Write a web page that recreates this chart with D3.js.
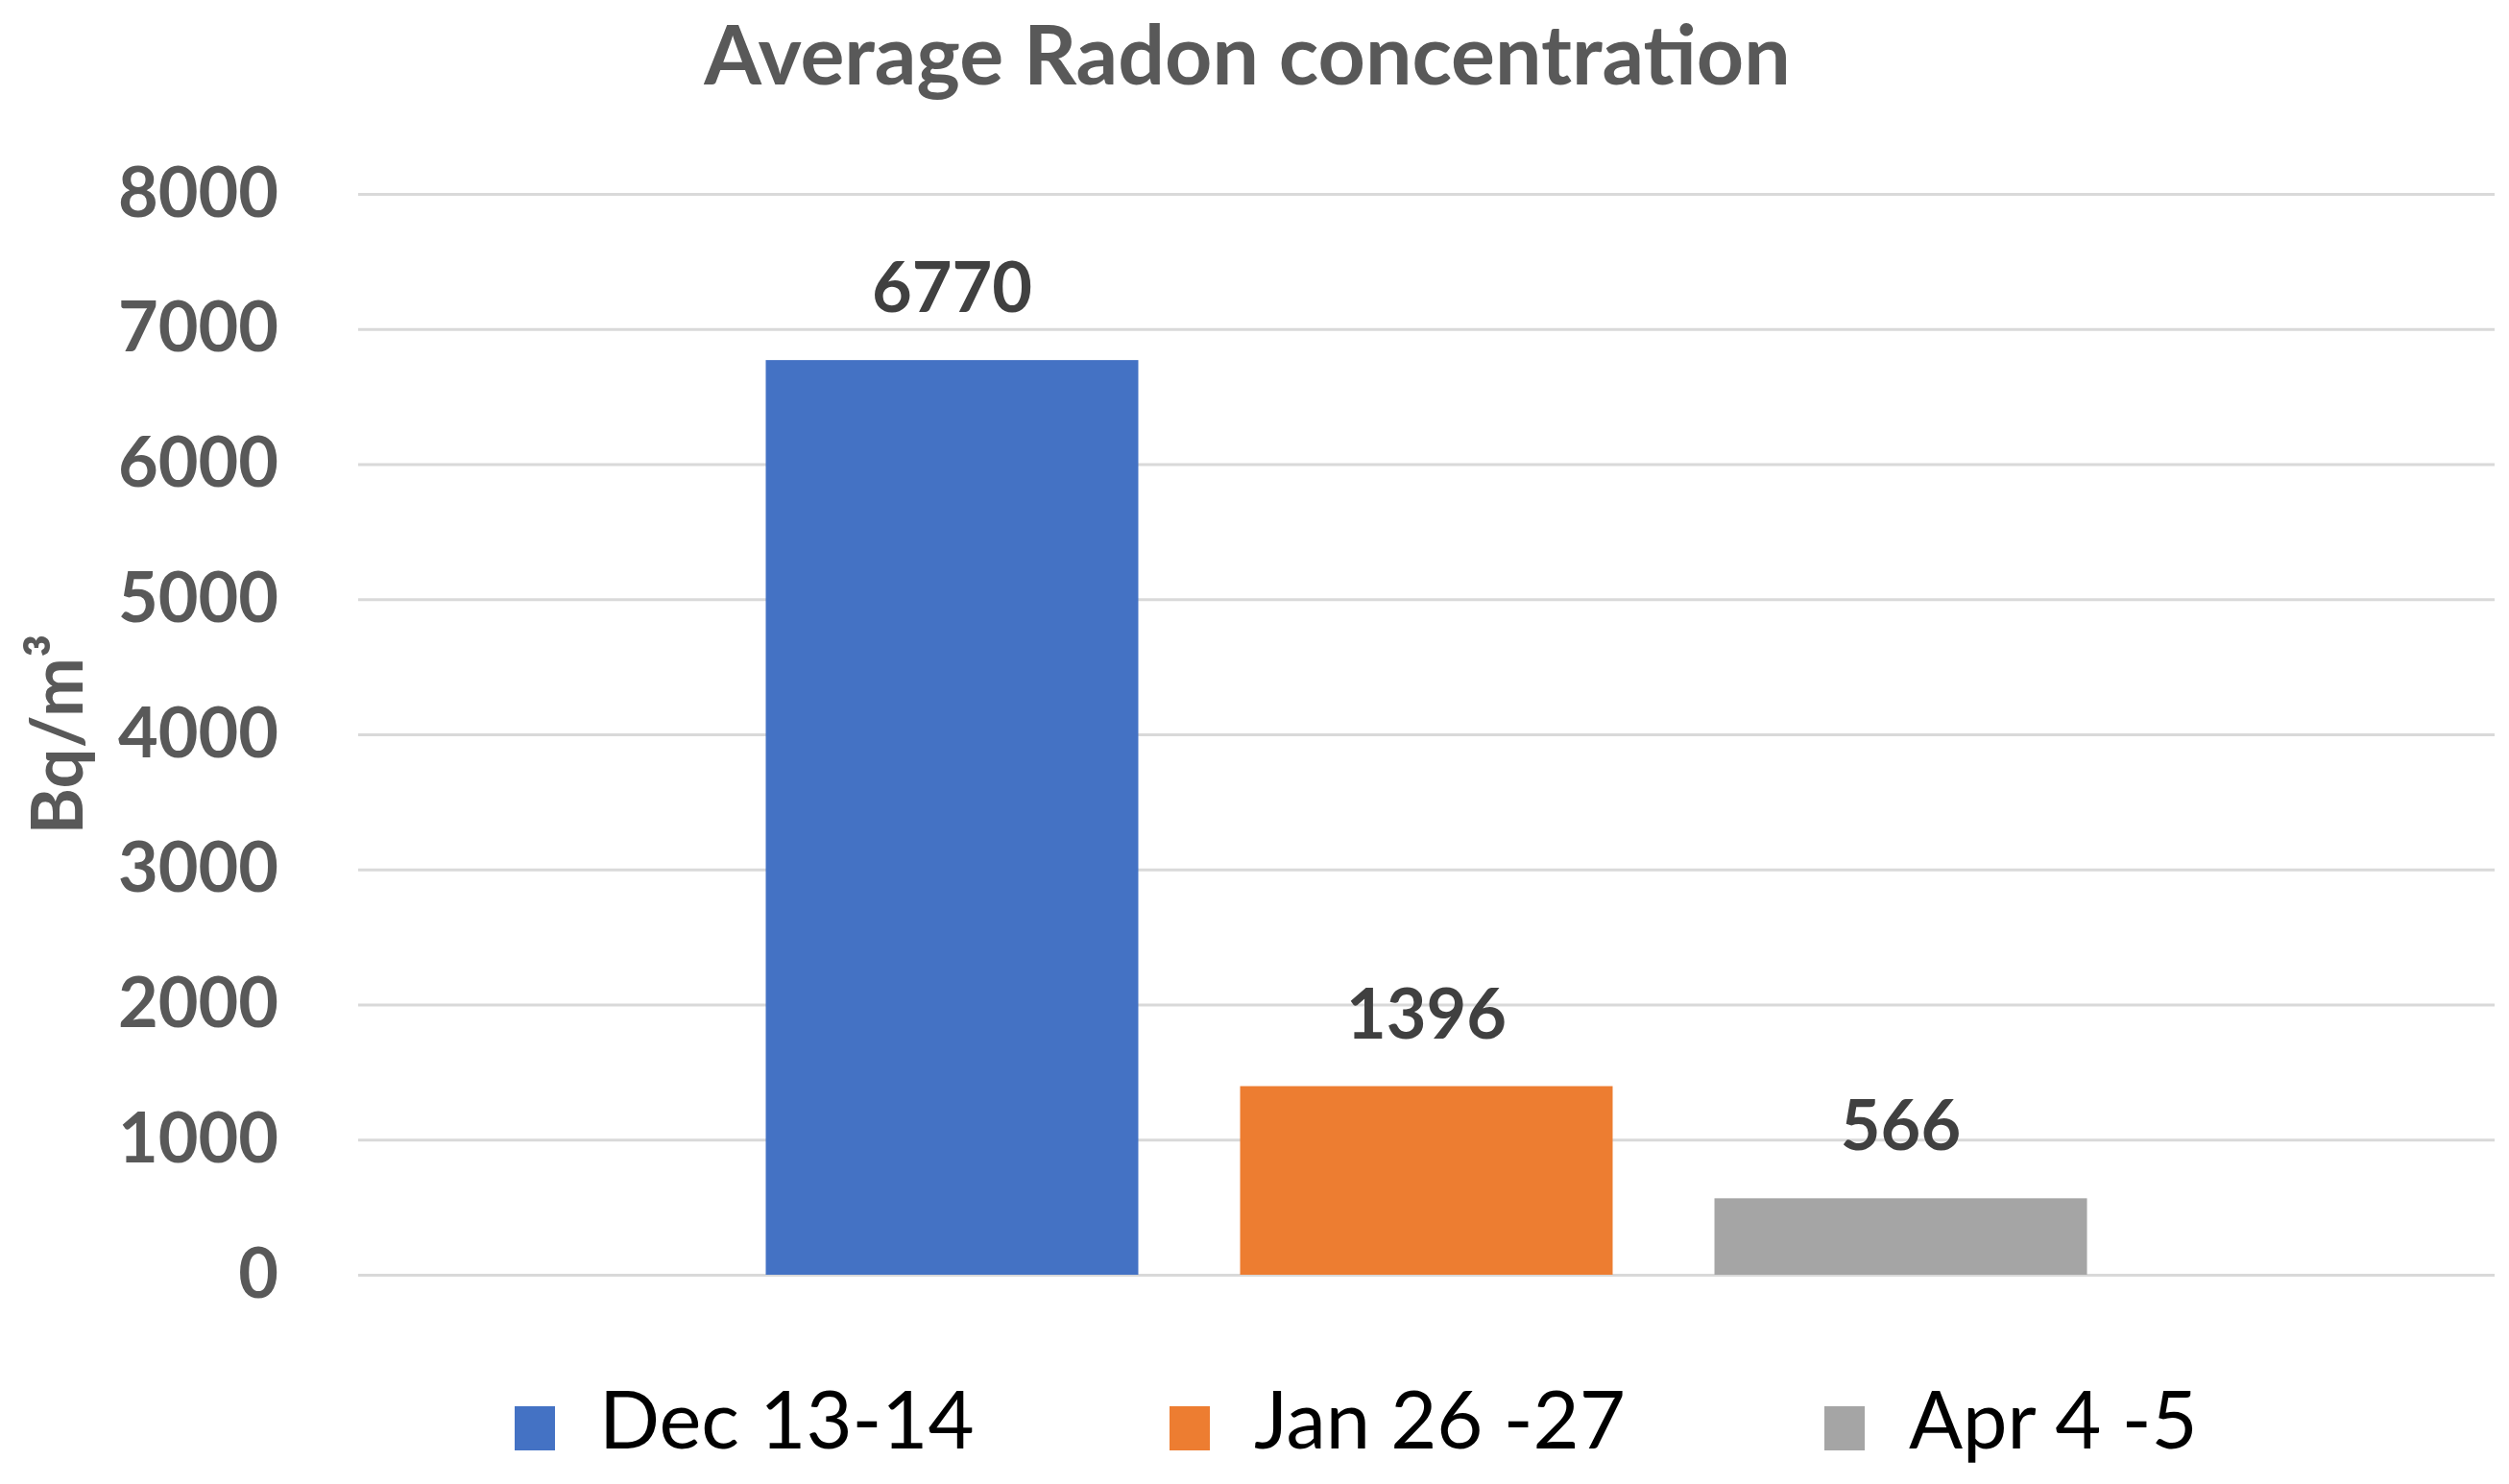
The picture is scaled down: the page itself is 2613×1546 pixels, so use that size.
<!DOCTYPE html>
<html>
<head>
<meta charset="utf-8">
<script src="https://cdnjs.cloudflare.com/ajax/libs/d3/7.8.5/d3.min.js"></script>
<style>
    body { margin: 0; background: #fff; }
    .main text { font-family: Lato, "Open Sans", sans-serif; }
</style>
</head>
<body>
<div class="main"></div>
<script>
// data
let categories = ["Radon"];
let seriesNames = ["Dec 13-14", "Jan 26 -27", "Apr 4 -5"];
let seriesValues = [6770, 1396, 566];
let seriesColors = ["#4472C4", "#ED7D31", "#A5A5A5"];
let yTicks = [0, 1000, 2000, 3000, 4000, 5000, 6000, 7000, 8000];

let width = 2613;
let height = 1546;

// plot area
let plotLeft = 373;
let plotRight = 2598;
let plotTop = 202;
let plotBottom = 1328;

let svg = d3.select(".main")
    .append("svg")
    .attr("width", width)
    .attr("height", height);

svg.append("rect")
    .attr("width", width)
    .attr("height", height)
    .attr("fill", "#fff");

let y = d3.scaleLinear()
    .domain([0, 8000])
    .range([plotBottom, plotTop]);

// one category, three series side by side (excel style gap width)
let x0 = d3.scaleBand()
    .domain(categories)
    .range([plotLeft, plotRight])
    .paddingInner(0)
    .paddingOuter(0.3085);

let x1 = d3.scaleBand()
    .domain(seriesNames)
    .range([0, x0.bandwidth()])
    .paddingInner(0.2146)
    .paddingOuter(0);

// gridlines + tick labels
let yAxis = d3.axisLeft(y)
    .tickValues(yTicks)
    .tickSize(-(plotRight - plotLeft))
    .tickPadding(83)
    .tickFormat(d3.format("d"));

let axisG = svg.append("g")
    .attr("transform", `translate(${plotLeft},0)`)
    .call(yAxis);

axisG.select(".domain").remove();
axisG.selectAll(".tick line")
    .attr("stroke", "#D9D9D9")
    .attr("stroke-width", 3);
axisG.selectAll(".tick text")
    .attr("fill", "#595959")
    .attr("font-size", 72)
    .attr("font-weight", "bold")
    .style("font-family", "Lato, sans-serif");

// bars
let bars = svg.append("g")
    .selectAll("g")
    .data(categories)
    .enter()
    .append("g")
    .attr("transform", d => `translate(${x0(d)},0)`);

let barData = seriesNames.map((name, i) => ({ name: name, value: seriesValues[i], color: seriesColors[i] }));

bars.selectAll("rect")
    .data(barData)
    .enter()
    .append("rect")
    .attr("x", d => x1(d.name))
    .attr("y", d => y(d.value))
    .attr("width", x1.bandwidth())
    .attr("height", d => y(0) - y(d.value))
    .attr("fill", d => d.color);

// value labels above bars
bars.selectAll(".value-label")
    .data(barData)
    .enter()
    .append("text")
    .attr("class", "value-label")
    .attr("x", d => x1(d.name) + x1.bandwidth() / 2)
    .attr("y", d => y(d.value) - 50)
    .attr("text-anchor", "middle")
    .attr("fill", "#404040")
    .attr("font-size", 72)
    .attr("font-weight", "bold")
    .text(d => d.value);

// title
svg.append("text")
    .attr("x", 1299)
    .attr("y", 88)
    .attr("text-anchor", "middle")
    .attr("fill", "#595959")
    .attr("font-size", 86)
    .attr("font-weight", "bold")
    .text("Average Radon concentration");

// y axis title
svg.append("text")
    .attr("transform", `translate(86,${(plotTop + plotBottom) / 2}) rotate(-90)`)
    .attr("text-anchor", "middle")
    .attr("fill", "#595959")
    .attr("font-size", 74)
    .attr("font-weight", "bold")
    .text("Bq/m³");

// legend
let legendX = d3.scaleBand()
    .domain(seriesNames)
    .range([536, 536 + 3 * 682]);

let legend = svg.append("g")
    .selectAll("g")
    .data(barData)
    .enter()
    .append("g")
    .attr("transform", d => `translate(${legendX(d.name)},1465)`);

legend.append("rect")
    .attr("width", 42)
    .attr("height", 46)
    .attr("fill", d => d.color);

legend.append("text")
    .attr("x", 88)
    .attr("y", 44)
    .attr("fill", "#000")
    .attr("font-size", 83)
    .text(d => d.name);
</script>
</body>
</html>
